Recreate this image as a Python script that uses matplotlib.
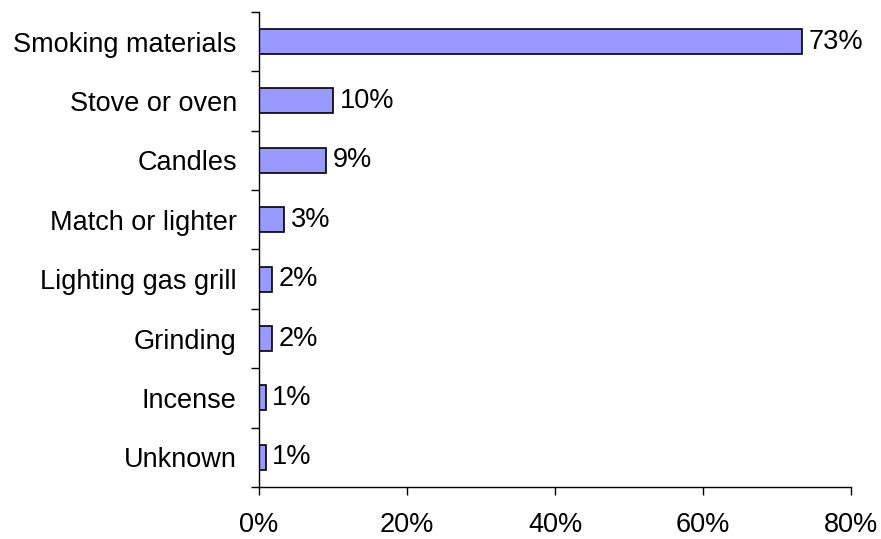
import matplotlib.pyplot as plt
from matplotlib.ticker import FixedLocator

plt.rcParams['font.family'] = ['Liberation Sans', 'DejaVu Sans']

# data
categories = ['Smoking materials', 'Stove or oven', 'Candles', 'Match or lighter',
              'Lighting gas grill', 'Grinding', 'Incense', 'Unknown']
values = [73.4, 10.0, 9.1, 3.4, 1.7, 1.7, 0.9, 0.9]
value_labels = ['73%', '10%', '9%', '3%', '2%', '2%', '1%', '1%']
x_ticks = [0, 20, 40, 60, 80]
x_tick_labels = ['0%', '20%', '40%', '60%', '80%']

FS = 19.5

fig = plt.figure(figsize=(8.81, 5.39), dpi=100)
ax = fig.add_axes([0.294, 0.0965, 0.672, 0.8815])

n = len(categories)
pos = list(range(n))[::-1]
bars = ax.barh(pos, values, height=0.42, color='#9999FF', edgecolor='black', linewidth=1.2)

for b, lab in zip(bars, value_labels):
    ax.text(b.get_width() + 0.9, b.get_y() + b.get_height() / 2, lab,
            va='center', ha='left', fontsize=FS)

ax.set_xlim(0, 80)
ax.set_ylim(-0.5, n - 0.5)
ax.set_xticks(x_ticks)
ax.set_xticklabels(x_tick_labels, fontsize=FS)

# category labels at centres, tick marks at the boundaries
ax.set_yticks(pos)
ax.set_yticklabels(categories, fontsize=FS)
ax.tick_params(axis='y', which='major', length=0, pad=16)
ax.yaxis.set_minor_locator(FixedLocator([i - 0.5 for i in range(n + 1)]))
ax.tick_params(axis='y', which='minor', length=6, width=1, direction='out')
ax.tick_params(axis='x', length=6, width=1, direction='out', pad=12)

for s in ['top', 'right']:
    ax.spines[s].set_visible(False)
for s in ['left', 'bottom']:
    ax.spines[s].set_linewidth(1)

fig.savefig('out.png', dpi=100)
